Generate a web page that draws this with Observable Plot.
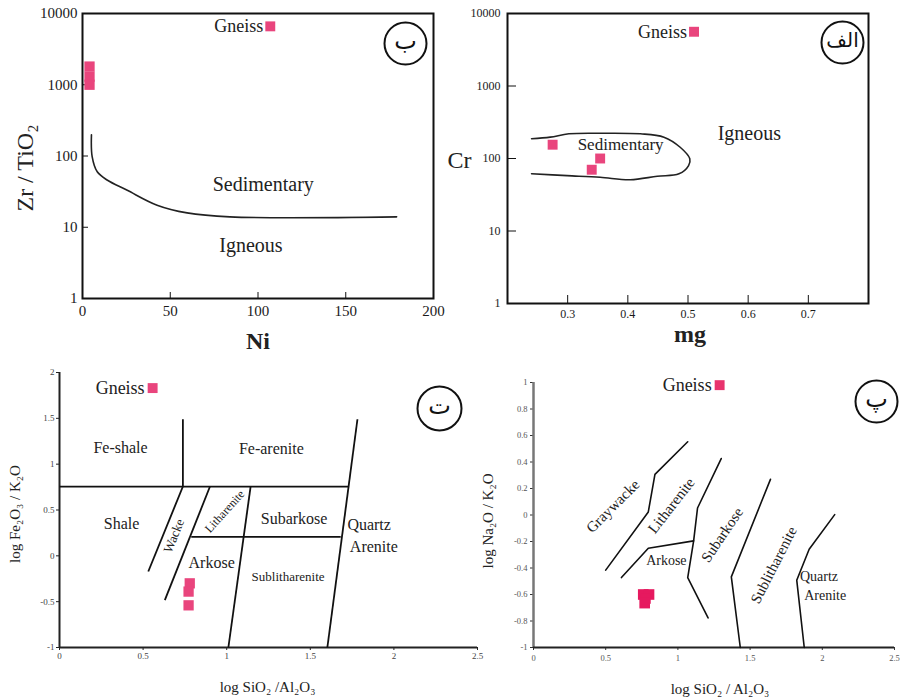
<!DOCTYPE html>
<html><head><meta charset="utf-8">
<script src="https://cdn.jsdelivr.net/npm/d3@7"></script>
<script src="https://cdn.jsdelivr.net/npm/@observablehq/plot@0.6"></script>
<style>
body{margin:0;background:#fff;}
#wrap{position:relative;width:901px;height:699px;overflow:hidden;}
#wrap > svg{position:absolute;}
</style></head><body><div id="wrap"></div>
<script>
// ---------- Panel ب : Zr/TiO2 vs Ni ----------
const niTicks = [0, 50, 100, 150, 200];
const zrTicks = [1, 10, 100, 1000, 10000];
const niSamples = [4, 4, 4];
const zrSamples = [1800, 1300, 1000];
const niGneiss = [107];
const zrGneiss = [6600];
const niBoundary = [5.1, 5.5, 8.4, 14, 25.5, 42.5, 59.6, 84, 179];
const zrBoundary = [198, 98, 60, 46, 33, 20.4, 15.9, 14, 14];
const niFieldNames = ["Sedimentary", "Igneous"];
const niFieldX = [103, 96];
const zrFieldY = [40, 5.6];

// ---------- Panel الف : Cr vs mg ----------
const mgTicks = [0.3, 0.4, 0.5, 0.6, 0.7];
const crTicks = [1, 10, 100, 1000, 10000];
const mgSamples = [0.275, 0.354, 0.34];
const crSamples = [155, 100, 70];
const mgGneiss = [0.51];
const crGneiss = [5600];
const mgBoundary = [0.240, 0.271, 0.302, 0.354, 0.421, 0.460, 0.487, 0.503, 0.501, 0.485, 0.449, 0.404, 0.354, 0.299, 0.240];
const crBoundary = [187, 197, 219, 223, 219, 197, 143, 99, 80, 61.5, 57, 51, 55, 58, 61.5];
const mgFieldNames = ["Sedimentary", "Igneous"];
const mgFieldX = [0.388, 0.602];
const crFieldY = [155, 218];

// ---------- Panel ت : log Fe2O3/K2O vs log SiO2/Al2O3 ----------
const feXTicks = [0, 0.5, 1, 1.5, 2, 2.5];
const feYTicks = [-1, -0.5, 0, 0.5, 1, 1.5, 2];
const feSegX1 = [0, 0.738, 0.738, 0.90, 1.143, 0.788, 1.782];
const feSegY1 = [0.756, 1.49, 0.756, 0.756, 0.756, 0.207, 1.49];
const feSegX2 = [1.728, 0.738, 0.531, 0.63, 1.01, 1.682, 1.602];
const feSegY2 = [0.756, 0.756, -0.171, -0.484, -1, 0.207, -1];
const feSamplesX = [0.779, 0.772, 0.772];
const feSamplesY = [-0.30, -0.39, -0.54];
const feGneissX = [0.557];
const feGneissY = [1.83];
const feNames = ["Fe-shale", "Fe-arenite", "Shale", "Subarkose", "Quartz", "Arenite", "Arkose"];
const feNameX = [0.365, 1.267, 0.371, 1.403, 1.852, 1.88, 0.91];
const feNameY = [1.175, 1.164, 0.345, 0.404, 0.335, 0.098, -0.08];
const feSmallNames = ["Wacke", "Litharenite", "Sublitharenite"];
const feSmallX = [0.684, 0.988, 1.367];
const feSmallY = [0.218, 0.484, -0.229];

// ---------- Panel پ : log Na2O/K2O vs log SiO2/Al2O3 ----------
const naXTicks = [0, 0.5, 1, 1.5, 2, 2.5];
const naYTicks = [-1, -0.8, -0.6, -0.4, -0.2, 0, 0.2, 0.4, 0.6, 0.8, 1];
const naLinesX = [
  [0.5, 0.795, 0.841, 1.068],
  [0.609, 0.795, 1.109],
  [1.3, 1.136, 1.109, 1.068, 1.209],
  [1.641, 1.37, 1.432],
  [2.086, 1.909, 1.823, 1.875]
];
const naLinesY = [
  [-0.416, 0.023, 0.307, 0.553],
  [-0.472, -0.251, -0.195],
  [0.426, 0.053, -0.195, -0.472, -0.777],
  [0.269, -0.467, -1],
  [0.003, -0.259, -0.492, -1]
];
const naSamplesX = [0.76, 0.80, 0.775, 0.77];
const naSamplesY = [-0.60, -0.60, -0.63, -0.665];
const naGneissX = [1.289];
const naGneissY = [0.98];
const naNames = ["Arkose", "Quartz", "Arenite"];
const naNameX = [0.92, 1.977, 2.02];
const naNameY = [-0.34, -0.462, -0.607];
const naRotNames = ["Graywacke", "Litharenite", "Subarkose", "Sublitharenite"];
const naRotX = [0.55, 0.955, 1.307, 1.664];
const naRotY = [0.066, 0.071, -0.15, -0.378];

const gneissName = "Gneiss";
const panelLetters = ["ب", "الف", "ت", "پ"];

// ---------- helpers ----------
const serif = "'Liberation Serif', 'Times New Roman', serif";
const pink = "#e9457d";
const pts = (xs, ys) => xs.map((x, i) => ({x, y: ys[i]}));
const fmt = d => String(d);
function place(svg, left, top) {
  svg.style.left = left + "px";
  svg.style.top = top + "px";
  document.getElementById("wrap").appendChild(svg);
}
const baseStyle = {fontFamily: serif, background: "transparent", overflow: "visible", color: "#1a1a1a"};
const mid = {textAnchor: "middle", lineAnchor: "middle"};
function circleBadge(letter, dx, dy, r, fs) {
  return [
    Plot.dot([letter], {frameAnchor: "top-right", dx, dy, r, stroke: "#111", strokeWidth: 2, fill: "none"}),
    Plot.text([letter], {frameAnchor: "top-right", ...mid, dx, dy: dy - 2, fontSize: fs, fontFamily: "'DejaVu Sans', 'Noto Sans', sans-serif", fill: "#111"})
  ];
}

// ---------- Panel 1 ----------
const p1 = Plot.plot({
  width: 450, height: 350, marginLeft: 82, marginRight: 17, marginTop: 13, marginBottom: 52,
  style: baseStyle,
  x: {domain: [0, 200], axis: null},
  y: {type: "log", domain: [1, 10000], axis: null},
  marks: [
    Plot.frame({stroke: "#111", strokeWidth: 2}),
    Plot.axisX(niTicks, {label: null, tickSize: -6, tickPadding: 13, fontSize: 15, tickFormat: fmt, stroke: "#111"}),
    Plot.axisY(zrTicks, {label: null, tickSize: -6, tickPadding: 11, fontSize: 15, tickFormat: fmt, stroke: "#111"}),
    Plot.line(pts(niBoundary, zrBoundary), {x: "x", y: "y", curve: "catmull-rom", stroke: "#222", strokeWidth: 1.6}),
    Plot.text(niFieldNames, {x: (d, i) => niFieldX[i], y: (d, i) => zrFieldY[i], text: d => d, fontSize: 20, fill: "#222"}),
    Plot.dot(pts(niSamples, zrSamples), {x: "x", y: "y", symbol: "square", r: 5.8, fill: pink}),
    Plot.dot(pts(niGneiss, zrGneiss), {x: "x", y: "y", symbol: "square", r: 5.6, fill: pink}),
    Plot.text(pts(niGneiss, zrGneiss), {x: "x", y: "y", text: () => gneissName, textAnchor: "end", dx: -7, fontSize: 18, fill: "#222"}),
    Plot.text(["Zr / TiO₂"], {frameAnchor: "left", ...mid, dx: -57, dy: 12, rotate: -90, fontSize: 24, fill: "#222"}),
    Plot.text(["Ni"], {frameAnchor: "bottom", ...mid, dy: 43, fontSize: 24, fontWeight: "bold", fill: "#222"}),
    ...circleBadge(panelLetters[0], -28, 30, 21, 24)
  ]
});
place(p1, 0, 0);

// ---------- Panel 2 ----------
const p2 = Plot.plot({
  width: 451, height: 350, marginLeft: 57, marginRight: 33, marginTop: 13, marginBottom: 47,
  style: baseStyle,
  x: {domain: [0.2, 0.8], axis: null},
  y: {type: "log", domain: [1, 10000], axis: null},
  marks: [
    Plot.frame({stroke: "#111", strokeWidth: 2}),
    Plot.axisX(mgTicks, {label: null, tickSize: -8, tickPadding: 14, fontSize: 12, tickFormat: fmt, stroke: "#111"}),
    Plot.axisY(crTicks, {label: null, tickSize: -9, tickPadding: 16, fontSize: 12, tickFormat: fmt, stroke: "#111"}),
    Plot.line(pts(mgBoundary, crBoundary), {x: "x", y: "y", curve: "catmull-rom", stroke: "#222", strokeWidth: 1.6}),
    Plot.text([mgFieldNames[0]], {x: () => mgFieldX[0], y: () => crFieldY[0], fontSize: 17, fill: "#222"}),
    Plot.text([mgFieldNames[1]], {x: () => mgFieldX[1], y: () => crFieldY[1], fontSize: 20, fill: "#222"}),
    Plot.dot(pts(mgSamples, crSamples), {x: "x", y: "y", symbol: "square", r: 5.6, fill: pink}),
    Plot.dot(pts(mgGneiss, crGneiss), {x: "x", y: "y", symbol: "square", r: 5.6, fill: pink}),
    Plot.text(pts(mgGneiss, crGneiss), {x: "x", y: "y", text: () => gneissName, textAnchor: "end", dx: -7, fontSize: 18, fill: "#222"}),
    Plot.text(["Cr"], {frameAnchor: "left", textAnchor: "end", lineAnchor: "middle", dx: -36, dy: 2, fontSize: 24, fill: "#222"}),
    Plot.text(["mg"], {frameAnchor: "bottom", ...mid, dx: 2, dy: 31, fontSize: 24, fontWeight: "bold", fill: "#222"}),
    ...circleBadge(panelLetters[1], -26, 29, 21, 20)
  ]
});
place(p2, 450, 0);

// ---------- Panel 3 ----------
const p3 = Plot.plot({
  width: 490, height: 344, marginLeft: 59, marginRight: 13, marginTop: 17, marginBottom: 52,
  style: baseStyle,
  x: {domain: [0, 2.5], axis: null},
  y: {domain: [-1, 2], axis: null},
  marks: [
    Plot.axisX(feXTicks, {label: null, tickSize: 3, tickPadding: 2, fontSize: 9, tickFormat: fmt, stroke: "#222", fill: "#444"}),
    Plot.axisY(feYTicks, {label: null, tickSize: 3, tickPadding: 2, fontSize: 9, tickFormat: fmt, stroke: "#222", fill: "#444"}),
    Plot.ruleX([0], {stroke: "#222", strokeWidth: 2}),
    Plot.ruleY([-1], {stroke: "#222", strokeWidth: 2}),
    Plot.link(feSegX1, {x1: (d, i) => feSegX1[i], y1: (d, i) => feSegY1[i], x2: (d, i) => feSegX2[i], y2: (d, i) => feSegY2[i], stroke: "#111", strokeWidth: 1.8}),
    Plot.text(feNames, {x: (d, i) => feNameX[i], y: (d, i) => feNameY[i], text: d => d, fontSize: 16, fill: "#222"}),
    Plot.text([feSmallNames[0]], {x: () => feSmallX[0], y: () => feSmallY[0], rotate: -68, fontSize: 13, fill: "#222"}),
    Plot.text([feSmallNames[1]], {x: () => feSmallX[1], y: () => feSmallY[1], rotate: -48, fontSize: 12, fill: "#222"}),
    Plot.text([feSmallNames[2]], {x: () => feSmallX[2], y: () => feSmallY[2], fontSize: 13, fill: "#222"}),
    Plot.dot(pts(feSamplesX, feSamplesY), {x: "x", y: "y", symbol: "square", r: 5.8, fill: pink}),
    Plot.dot(pts(feGneissX, feGneissY), {x: "x", y: "y", symbol: "square", r: 5.6, fill: pink}),
    Plot.text(pts(feGneissX, feGneissY), {x: "x", y: "y", text: () => gneissName, textAnchor: "end", dx: -8, fontSize: 18, fill: "#222"}),
    Plot.text(["log Fe₂O₃ / K₂O"], {frameAnchor: "left", ...mid, dx: -44, dy: 4, rotate: -90, fontSize: 15, fill: "#222"}),
    Plot.text(["log SiO₂ /Al₂O₃"], {frameAnchor: "bottom", ...mid, dx: -1, dy: 40, fontSize: 15, fill: "#222"}),
    ...circleBadge(panelLetters[2], -38, 36, 22, 24)
  ]
});
place(p3, 0, 355);

// ---------- Panel 4 ----------
const naTable = naLinesX.flatMap((xs, k) => xs.map((x, i) => ({k, x, y: naLinesY[k][i]})));
const p4 = Plot.plot({
  width: 431, height: 334, marginLeft: 63, marginRight: 7, marginTop: 17, marginBottom: 52,
  style: baseStyle,
  x: {domain: [0, 2.5], axis: null},
  y: {domain: [-1, 1], axis: null},
  marks: [
    Plot.axisX(naXTicks, {label: null, tickSize: 3, tickPadding: 4, fontSize: 8.5, tickFormat: fmt, stroke: "#333", fill: "#555"}),
    Plot.axisY(naYTicks, {label: null, tickSize: 3, tickPadding: 3, fontSize: 8.5, tickFormat: fmt, stroke: "#333", fill: "#555"}),
    Plot.ruleX([0], {stroke: "#777", strokeWidth: 2.5}),
    Plot.ruleY([-1], {stroke: "#222", strokeWidth: 2}),
    Plot.line(naTable, {x: "x", y: "y", z: "k", stroke: "#111", strokeWidth: 1.6}),
    Plot.text(naNames, {x: (d, i) => naNameX[i], y: (d, i) => naNameY[i], text: d => d, fontSize: 14, fill: "#222"}),
    Plot.text([naRotNames[0]], {x: () => naRotX[0], y: () => naRotY[0], rotate: -45, fontSize: 15, fill: "#222"}),
    Plot.text([naRotNames[1]], {x: () => naRotX[1], y: () => naRotY[1], rotate: -52, fontSize: 15, fill: "#222"}),
    Plot.text([naRotNames[2]], {x: () => naRotX[2], y: () => naRotY[2], rotate: -56, fontSize: 15, fill: "#222"}),
    Plot.text([naRotNames[3]], {x: () => naRotX[3], y: () => naRotY[3], rotate: -63, fontSize: 15, fill: "#222"}),
    Plot.dot(pts(naSamplesX, naSamplesY), {x: "x", y: "y", symbol: "square", r: 6, fill: "#e6195f"}),
    Plot.dot(pts(naGneissX, naGneissY), {x: "x", y: "y", symbol: "square", r: 5.6, fill: "#e8336d"}),
    Plot.text(pts(naGneissX, naGneissY), {x: "x", y: "y", text: () => gneissName, textAnchor: "end", dx: -8, fontSize: 18, fill: "#222"}),
    Plot.text(["log Na₂O / K₂O"], {frameAnchor: "left", ...mid, dx: -45, dy: 6, rotate: -90, fontSize: 15, fill: "#222"}),
    Plot.text(["log SiO₂ / Al₂O₃"], {frameAnchor: "bottom", ...mid, dx: 6, dy: 42, fontSize: 15, fill: "#222"}),
    ...circleBadge(panelLetters[3], -18, 19, 21, 24)
  ]
});
place(p4, 470, 365);
</script></body></html>
